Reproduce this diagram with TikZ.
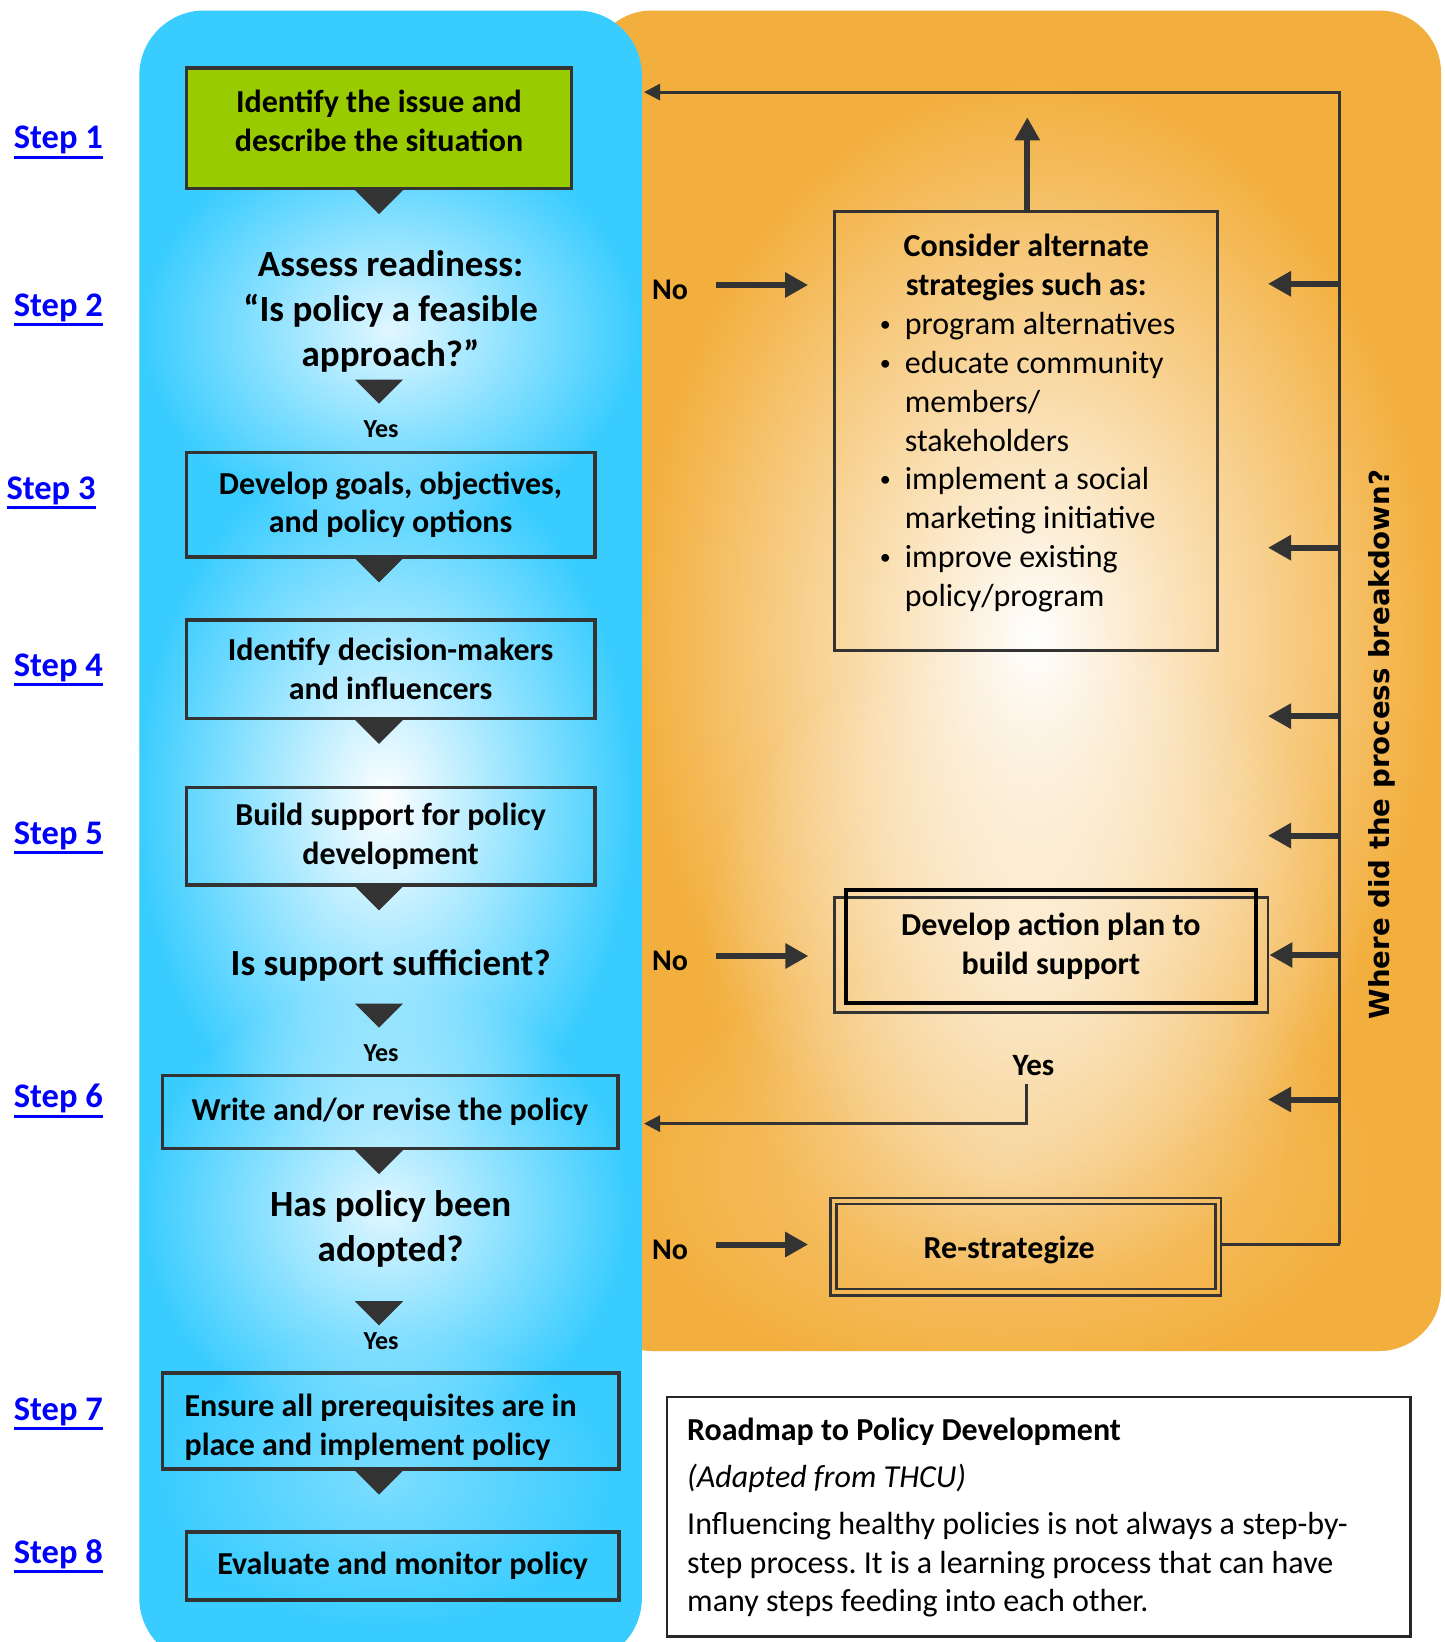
\documentclass[tikz,border=0pt]{standalone}
\usepackage{fontspec}
\setmainfont{Carlito}
\newfontfamily\rotfont{DejaVu Sans}
\usetikzlibrary{arrows.meta,fadings,calc}
\definecolor{cyanbg}{HTML}{38CCFF}
\definecolor{orangebg}{HTML}{F3AF3D}
\definecolor{greenbox}{HTML}{99CC00}
\definecolor{dkgray}{HTML}{333333}
\definecolor{linkblue}{HTML}{0000FF}
\tikzfading[name=glowfade, inner color=transparent!0, outer color=transparent!100]
\frenchspacing
\newcommand{\fsz}[2]{\fontsize{#1}{#2}\selectfont}
\newsavebox{\ulsave}
\newcommand{\ulstep}[1]{\sbox{\ulsave}{#1}\vtop{\copy\ulsave\kern1.5pt\hrule height 3pt width \wd\ulsave}}
\newcommand{\dtri}[1]{\fill[downtri] #1 ++(-23,0) -- ++(46,0) -- ++(-23,23) -- cycle;}
\newcommand{\bul}{\llap{\raisebox{3pt}{\fsz{22}{22}•}\hspace{14pt}}}
\tikzset{
  flowbox/.style={draw=dkgray, line width=3.5pt, rectangle, inner sep=0pt, align=center, font=\fsz{32}{38.8}\bfseries},
  boxtext/.style={inner sep=0pt, align=center, font=\fsz{32}{38.8}\bfseries},
  bigq/.style={inner sep=0pt, align=center, font=\fsz{37}{45}\bfseries},
  yeslab/.style={inner sep=0pt, font=\fsz{26}{30}\bfseries},
  nolab/.style={inner sep=0pt, font=\fsz{30}{36}\bfseries},
  steplab/.style={anchor=base west, inner sep=0pt, text=linkblue, font=\fsz{34.5}{40}\bfseries},
  downtri/.style={fill=dkgray, draw=dkgray, line width=1pt, line join=miter},
  bigarrow/.style={draw=dkgray, line width=6pt, -{Triangle[length=23pt,width=24pt]}},
  thinarrow/.style={draw=dkgray, line width=3pt, line join=miter, -{Triangle[length=16pt,width=16pt]}},
  fbline/.style={draw=dkgray, line width=3pt},
  glow/.style={fill=white, path fading=glowfade},
  plainbox/.style={draw=dkgray, line width=2.5pt, rectangle, inner sep=0pt},
}
\begin{document}
\begin{tikzpicture}[x=1pt,y=-1pt]
\useasboundingbox (0,0) rectangle (1444,1642);
\fill[white] (0,0) rectangle (1444,1642);

% ---------- orange panel ----------
\fill[orangebg, rounded corners=62pt] (590,10.5) rectangle (1441,1351);
\begin{scope}
  \clip[rounded corners=62pt] (590,10.5) rectangle (1441,1351);
  \fill[glow] (1035,640) ellipse (400 and 560);
  \fill[glow, opacity=0.6] (1030,950) ellipse (330 and 330);
  \fill[glow, opacity=0.35] (1000,1170) ellipse (380 and 220);
\end{scope}

% ---------- blue panel ----------
\fill[cyanbg, rounded corners=65pt] (139.3,10.5) rectangle (641.9,1663);
\begin{scope}
  \clip[rounded corners=65pt] (139.3,10.5) rectangle (641.9,1663);
  \fill[glow, opacity=0.85] (390,330) ellipse (250 and 200);
  \fill[glow] (385,800) ellipse (250 and 360);
  \fill[glow, opacity=0.85] (385,1210) ellipse (245 and 230);
  \fill[glow, opacity=0.35] (385,1480) ellipse (230 and 150);
\end{scope}

% ---------- step labels ----------
\node[steplab] (st1) at (13.6,148.7) {\ulstep{Step 1}};
\node[steplab] (st2) at (13.6,316.3) {\ulstep{Step 2}};
\node[steplab] (st3) at (6.3,499.5) {\ulstep{Step 3}};
\node[steplab] (st4) at (13.6,676.5) {\ulstep{Step 4}};
\node[steplab] (st5) at (13.6,844) {\ulstep{Step 5}};
\node[steplab] (st6) at (13.6,1107.9) {\ulstep{Step 6}};
\node[steplab] (st7) at (13.6,1420) {\ulstep{Step 7}};
\node[steplab] (st8) at (13.6,1563.5) {\ulstep{Step 8}};

% ---------- main flow ----------
\coordinate (tx) at (379,0);
\node[flowbox, fill=greenbox, minimum width=385.3pt, minimum height=120.5pt] (s1) at (379,128.3) {};
\node[boxtext] (s1t) at (379,121) {Identify the issue and\\describe the situation};
\dtri{(s1.south -| tx)}

\node[bigq] (q2) at (390.6,311.5) {Assess readiness:\\“Is policy a feasible\\approach?”};
\dtri{(379,380)}
\node[yeslab] (yes1) at (381,429.3) {Yes};

\node[flowbox, minimum width=408.4pt, minimum height=104.6pt] (s3) at (390.6,504.7) {Develop goals, objectives,\\and policy options};
\dtri{(s3.south -| tx)}
\node[flowbox, minimum width=408.4pt, minimum height=98.3pt] (s4) at (390.6,669.2) {Identify decision-makers\\and influencers};
\dtri{(s4.south -| tx)}
\node[flowbox, minimum width=408.4pt, minimum height=97.3pt] (s5) at (390.6,836.2) {Build support for policy\\development};
\dtri{(s5.south -| tx)}

\node[bigq] (q5) at (390.6,965) {Is support sufficient?};
\dtri{(379,1004)}
\node[yeslab] (yes2) at (381,1053.4) {Yes};

\node[flowbox, minimum width=455.5pt, minimum height=73.3pt] (s6) at (390,1112) {Write and/or revise the policy};
\dtri{(s6.south -| tx)}

\node[bigq] (q6) at (390.6,1228.5) {Has policy been\\adopted?};
\dtri{(379,1301.6)}
\node[yeslab] (yes3) at (381,1341.4) {Yes};

\node[flowbox, minimum width=456.6pt, minimum height=96.3pt] (s7) at (390.6,1421) {};
\node[boxtext, text width=412pt, align=flush left] (s7t) at (390.6,1427.4) {Ensure all prerequisites are in\\place and implement policy};
\dtri{(s7.south -| tx)}
\node[flowbox, minimum width=432.5pt, minimum height=68pt] (s8) at (402.6,1566) {Evaluate and monitor policy};

% ---------- right side ----------
\node[plainbox, line width=3pt, minimum width=383.2pt, minimum height=438.8pt] (alt) at (1026.2,430.9) {};
\node[boxtext] (altt) at (1026.2,267.4) {Consider alternate\\strategies such as:};
\node[anchor=north west, inner sep=0pt, font=\fsz{32}{38.8}] (altl) at (904.7,307.4) {%
\begin{tabular}{@{}l@{}}
\bul program alternatives\\
\bul educate community\\
members/\\
stakeholders\\
\bul implement a social\\
marketing initiative\\
\bul improve existing\\
policy/program
\end{tabular}};

\node[plainbox, minimum width=433.5pt, minimum height=115.2pt] (devout) at (1051.4,955) {};
\node[draw=black, line width=4pt, rectangle, inner sep=0pt, minimum width=409.4pt, minimum height=113.1pt, align=center, font=\fsz{32}{38.8}\bfseries] (dev) at (1050.8,946.5) {Develop action plan to\\build support};

\node[plainbox, minimum width=390.6pt, minimum height=97.3pt] (restrout) at (1025.7,1246.65) {};
\node[plainbox, minimum width=379pt, minimum height=84.8pt, text height=29pt, text depth=6pt, font=\fsz{32}{38.8}\bfseries] (restr) at (1026.2,1246.6) {Re-strategize\hspace*{34pt}};

\node[nolab] (no1) at (670,290) {No};
\node[nolab] (no2) at (670,961) {No};
\node[nolab] (no3) at (670,1249.5) {No};
\draw[bigarrow] ([xshift=28pt,yshift=5pt]no1.east) -- ([xshift=-25pt,yshift=5pt]no1.east -| alt.west);
\draw[bigarrow] ([xshift=28pt,yshift=5pt]no2.east) -- ([xshift=-25pt,yshift=5pt]no2.east -| devout.west);
\draw[bigarrow] ([xshift=28pt,yshift=5pt]no3.east) -- ([xshift=-21pt,yshift=5pt]no3.east -| restrout.west);

\coordinate (uptip) at (1027.3,117.3);
\draw[bigarrow] (alt.north -| uptip) -- (uptip);

\coordinate (fbtop) at (1339.5,92.1);
\coordinate (fbbot) at (1339.5,1244);
\coordinate (bluein1) at (644,92.1);
\coordinate (bluein2) at (644,1123.6);
\draw[fbline] (restrout.east |- fbbot) -- (fbbot);
\draw[thinarrow] (fbbot) -- (fbtop) -- (bluein1);

\foreach \yy/\nm in {283.8/sa, 547.7/sb, 716.2/sc, 835.6/sd, 1099.5/sf} {
  \coordinate (\nm0) at (1339.5,\yy);
  \coordinate (\nm1) at (1268,\yy);
  \draw[bigarrow] (\nm0) -- (\nm1);
}
\draw[bigarrow] (fbtop |- devout.east) -- (devout.east);

\node[inner sep=0pt, font=\fsz{31}{36}\bfseries] (yesR) at (1033.5,1066) {Yes};
\coordinate (yesstart) at (1026.2,1083.8);
\draw[thinarrow] (yesstart) |- (bluein2);

\node[rotate=90, inner sep=0pt, font=\rotfont\bfseries\fsz{27.6}{32}] (where) at (1382.2,744.5) {Where did the process breakdown?};

% ---------- legend ----------
\node[draw=black!85, line width=2.5pt, rectangle, inner sep=0pt, minimum width=743.5pt, minimum height=239.7pt] (legend) at (1038.75,1516.85) {};
\node[anchor=north west, inner sep=0pt, font=\fsz{32}{38.7}] (legendt) at (687,1413) {%
\begin{tabular}{@{}l@{}}
\textbf{Roadmap to Policy Development}\\[8.4pt]
\textit{(Adapted from THCU)}\\[8.4pt]
Influencing healthy policies is not always a step-by-\\
step process. It is a learning process that can have\\
many steps feeding into each other.
\end{tabular}};
\end{tikzpicture}
\end{document}
